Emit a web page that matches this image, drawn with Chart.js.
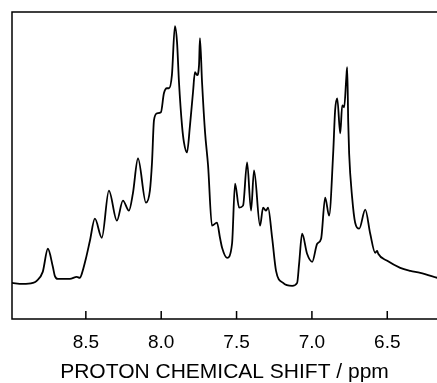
<!DOCTYPE html>
<html>
<head>
<meta charset="utf-8">
<script src="https://cdn.jsdelivr.net/npm/chart.js@4/dist/chart.umd.min.js"></script>
<style>
  html, body { margin: 0; padding: 0; background: #fff; }
  #wrap { width: 437px; height: 383px; }
</style>
</head>
<body>
<div id="wrap"><canvas id="nmrChart"></canvas></div>
<script>
// chemical shift (ppm) and intensity
var shiftPpm = [8.992, 8.919, 8.852, 8.826, 8.786, 8.752, 8.719, 8.706, 8.686, 8.606,
  8.560, 8.540, 8.527, 8.500, 8.473, 8.440, 8.394, 8.347, 8.294, 8.254,
  8.214, 8.188, 8.154, 8.101, 8.075, 8.061, 8.048, 8.028, 8.002, 7.982,
  7.962, 7.948, 7.929, 7.909, 7.895, 7.882, 7.862, 7.849, 7.829, 7.809,
  7.789, 7.776, 7.762, 7.749, 7.743, 7.729, 7.709, 7.689, 7.663, 7.630,
  7.610, 7.596, 7.563, 7.530, 7.510, 7.483, 7.457, 7.430, 7.404, 7.384,
  7.344, 7.324, 7.304, 7.291, 7.264, 7.238, 7.191, 7.131, 7.098, 7.085,
  7.065, 7.032, 6.998, 6.965, 6.939, 6.912, 6.886, 6.859, 6.846, 6.832,
  6.812, 6.799, 6.786, 6.772, 6.766, 6.759, 6.753, 6.733, 6.713, 6.686,
  6.646, 6.613, 6.580, 6.567, 6.560, 6.500, 6.414, 6.347, 6.281, 6.168];
var intensity = [36, 35, 36, 38, 47, 70, 52, 43, 40, 40,
  42, 41, 45, 60, 78, 100, 81, 128, 98, 118,
  108, 125, 160, 116, 128, 156, 198, 205, 206, 225,
  230, 230, 243, 292, 276, 236, 193, 176, 166, 193,
  226, 246, 243, 253, 280, 236, 186, 153, 93, 96,
  81, 71, 61, 75, 135, 111, 113, 156, 108, 148,
  93, 111, 108, 111, 81, 48, 36, 33, 36, 55,
  85, 65, 57, 75, 80, 121, 103, 165, 208, 220,
  185, 213, 211, 240, 251, 196, 165, 121, 96, 90,
  109, 85, 66, 68, 65, 58, 51, 48, 46, 41];
var tickValues = [8.5, 8.0, 7.5, 7.0, 6.5];

var points = shiftPpm.map(function (p, i) { return { x: p, y: intensity[i] }; });

// frame on left/top/bottom and inward tick marks
var framePlugin = {
  id: "frame",
  afterDraw: function (chart) {
    var ctx = chart.ctx;
    var a = chart.chartArea;
    var xs = chart.scales.x;
    ctx.save();
    ctx.strokeStyle = "#000";
    ctx.lineWidth = 1.5;
    ctx.beginPath();
    ctx.moveTo(a.right + 2, a.top);
    ctx.lineTo(a.left, a.top);
    ctx.lineTo(a.left, a.bottom);
    ctx.lineTo(a.right + 2, a.bottom);
    tickValues.forEach(function (v) {
      var px = xs.getPixelForValue(v);
      ctx.moveTo(px, a.bottom);
      ctx.lineTo(px, a.bottom - 8);
    });
    ctx.stroke();
    ctx.restore();
  }
};

new Chart("nmrChart", {
  type: "line",
  data: {
    datasets: [{
      data: points,
      borderColor: "#000",
      borderWidth: 1.8,
      pointRadius: 0,
      fill: false,
      cubicInterpolationMode: "monotone"
    }]
  },
  options: {
    responsive: true,
    maintainAspectRatio: false,
    animation: false,
    layout: { padding: { left: 12, top: 12, right: 0, bottom: 0 } },
    plugins: { legend: { display: false }, tooltip: { enabled: false } },
    scales: {
      x: {
        type: "linear",
        reverse: true,
        min: 6.17,
        max: 8.99,
        afterBuildTicks: function (axis) {
          axis.ticks = tickValues.map(function (v) { return { value: v }; });
        },
        grid: { display: false, drawTicks: false },
        border: { display: false },
        ticks: {
          color: "#000",
          padding: 12,
          maxRotation: 0,
          font: { family: "Liberation Sans", size: 19 },
          callback: function (v) { return Number(v).toFixed(1); }
        },
        title: {
          display: true,
          text: "PROTON CHEMICAL SHIFT / ppm",
          color: "#000",
          padding: { top: -6, bottom: -2 },
          font: { family: "Liberation Sans", size: 21 }
        }
      },
      y: {
        display: false,
        min: 0,
        max: 306
      }
    }
  },
  plugins: [framePlugin]
});
</script>
</body>
</html>
